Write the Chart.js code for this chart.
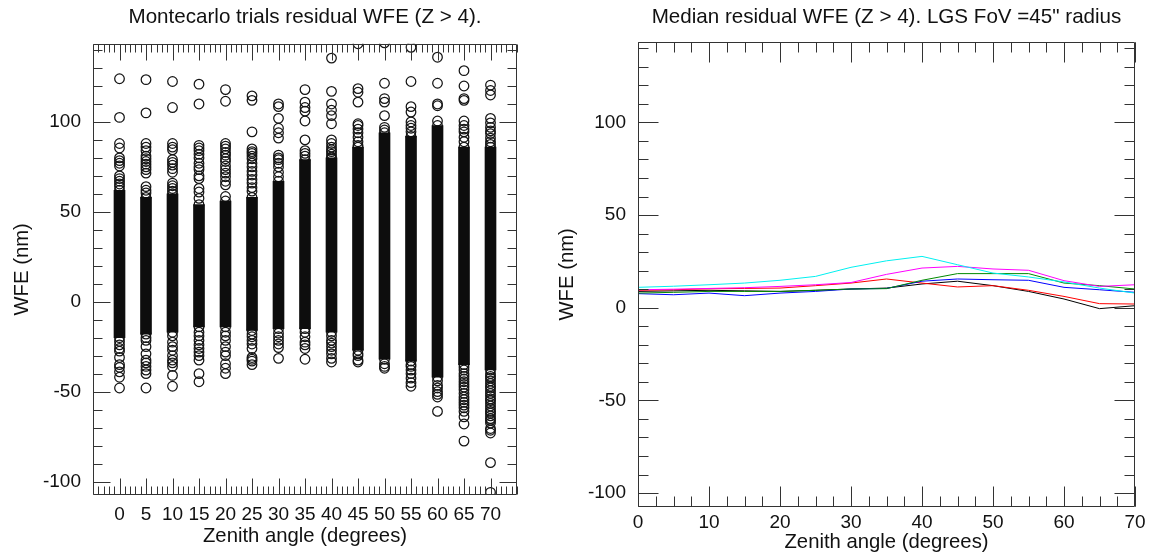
<!DOCTYPE html>
<html>
<head>
<meta charset="utf-8">
<script src="https://cdn.jsdelivr.net/npm/chart.js@4.4.1/dist/chart.umd.min.js"></script>
<style>
  html, body { margin: 0; padding: 0; background: #fff; }
  #wrap { position: relative; width: 1154px; height: 558px; overflow: hidden; }
  .panel { position: absolute; top: 0; height: 558px; }
  #left { left: 0; width: 577px; }
  #right { left: 550px; width: 604px; }
</style>
</head>
<body>
<div id="wrap">
  <div class="panel" id="left"><canvas id="trialsChart"></canvas></div>
  <div class="panel" id="right"><canvas id="medianChart"></canvas></div>
</div>
<script>
// zenith angles of the trials (degrees)
const angles = [0, 5, 10, 15, 20, 25, 30, 35, 40, 45, 50, 55, 60, 65, 70];
const medianTicksX = [0, 10, 20, 30, 40, 50, 60, 70];
const wfeTicks = [-100, -50, 0, 50, 100];

// dense part of each trial column (nm), where the circles merge into black
const coreLow = [-20, -18, -17, -14, -14, -16, -15, -15, -17, -27, -32, -33, -42, -35, -38];
const coreHigh = [62, 58, 60, 54, 56, 58, 67, 79, 80, 86, 94, 92, 98, 86, 86];

// single trials still visible as circles, per zenith angle (nm)
const trialOutliers = [
  [124, 102.5, 88, 85.5, 80, 78.5, 77, 75.5, 70, 68.5, 67, 65.5, 64, 62, -20, -22, -24, -26, -27.5, -31, -35, -36.5, -39, -42, -48],
  [123.5, 105, 88, 86, 84, 81, 79.5, 78, 76.5, 75, 73.5, 71.5, 64, 62, 60.5, 58, -18, -20, -21.5, -25, -29, -32.5, -34, -36, -38, -40, -48],
  [122.5, 108, 88, 86, 84.5, 79, 77.5, 76, 74, 72, 66, 64.5, 63, 61.5, 60, -17, -19, -22.5, -25, -27, -30, -32.5, -34, -36, -41, -47],
  [121, 110, 87, 85.5, 84, 82, 80, 77, 75, 73.5, 70, 68.5, 63, 61, 57.5, 54, -14, -17, -19, -21.5, -24, -26, -28, -30, -32.5, -40, -44.5],
  [118, 111.5, 88, 86.5, 85, 83, 81.5, 79.5, 78, 75.5, 73.5, 71.5, 69.5, 67, 65, 58.5, 56, -14, -17, -19, -21.5, -25, -28, -30, -34.5, -37, -40],
  [114.5, 112, 94.5, 85, 83.5, 82.5, 81, 79.5, 77, 75, 72.5, 70.5, 68, 66, 63.5, 61.5, 58, -16, -18, -19.5, -21.5, -23.5, -26, -31, -32, -33, -35],
  [110, 108.5, 102, 96.5, 94, 91, 81.5, 80, 79, 77, 75, 72, 69.5, 67, -15, -17.5, -19.5, -21.5, -23.5, -25.5, -31.5],
  [118, 111, 108, 106, 100.5, 90, 84, 82.5, 81, 79, -15, -17, -19.5, -22.5, -24, -26, -32],
  [135.5, 117, 110, 106.5, 103.5, 99, 90, 88, 86, 84.5, 83.5, 82, 80.5, 80, -17, -19, -21.5, -23, -25, -27, -29, -31.5, -33.5],
  [143.5, 118.5, 116.5, 111, 99, 98, 96, 94, 91.5, 89, 87, 86, -27, -29, -30, -32.5, -33.5],
  [144, 121.5, 113, 111, 103.5, 97, 95.5, 94, -32, -34.5, -36, -37],
  [141.5, 122.5, 108.5, 105.5, 100, 98, 96.5, 94.5, 92, -33, -35, -36, -38, -40, -42.5, -45, -47],
  [136, 121.5, 110, 109, 100.5, 98, -42, -44, -46.5, -48, -50, -51.5, -53, -61],
  [128.5, 120, 113, 112, 100.5, 98, 96, 94.5, 91.5, 89, 86, -35, -36.5, -38, -40, -41.5, -43, -44.5, -46, -47.5, -49, -51, -53, -54.5, -56, -57.5, -59, -61, -64, -68, -77.5],
  [120.5, 117.5, 115, 102, 99.5, 97, 95, 93.5, 91, 89, 87.5, 86, -38, -40, -41.5, -42.5, -44, -45.5, -47, -48, -49.5, -51, -52.5, -54, -55, -56.5, -58, -59.5, -61, -62, -63.5, -65, -66, -67.5, -70.5, -71.5, -73, -89.5, -106]
];

// median residual WFE (nm) per zenith angle, one line per case
const medianCyan = [11.0, 11.6, 12.4, 13.3, 14.8, 16.9, 21.8, 25.3, 27.7, 23.2, 18.7, 16.6, 13.9, 10.6, 7.9];
const medianMagenta = [9.7, 10.0, 10.4, 10.8, 11.5, 12.4, 13.6, 18.0, 21.4, 22.3, 20.9, 20.2, 14.6, 11.5, 12.4];
const medianRed = [9.4, 9.7, 10.2, 10.4, 10.6, 11.9, 13.3, 15.5, 13.3, 11.2, 11.9, 9.4, 6.1, 2.2, 2.0];
const medianGreen = [7.9, 8.3, 8.8, 8.8, 8.8, 9.4, 10.1, 10.3, 14.8, 18.4, 18.4, 18.4, 13.3, 11.9, 10.1];
const medianBlue = [7.6, 7.0, 7.9, 6.5, 7.9, 8.8, 10.1, 10.4, 14.3, 15.5, 15.1, 14.8, 11.0, 9.7, 8.3];
const medianBlack = [8.8, 9.1, 9.4, 9.1, 8.8, 9.4, 10.1, 10.6, 12.8, 14.3, 11.9, 8.8, 4.7, -0.5, 1.1];

const fontFamily = "'Liberation Sans', Arial, Helvetica, sans-serif";
const textColor = "#111";
const tickFont = { family: fontFamily, size: 19 };
const axisTitleFont = { family: fontFamily, size: 20.3 };
const chartTitleFont = { family: fontFamily, size: 20.6, weight: "normal" };

function steps(from, to, step) {
  let out = [];
  for (let v = from; v <= to + 1e-9; v += step) out.push(Math.round(v * 100) / 100);
  return out;
}

/* IDL style box: frame on all four sides with inward ticks */
function boxTicks(cfg) {
  return {
    id: "boxTicks",
    afterDatasetsDraw(chart) {
      const { ctx, chartArea: a, scales } = chart;
      const x = scales.x, y = scales.y;
      const L = Math.round(a.left) + 0.5, R = Math.round(a.right) - 0.5;
      const T = Math.round(a.top) + 0.5, B = Math.round(a.bottom) - 0.5;
      ctx.save();
      ctx.strokeStyle = "#333";
      ctx.lineWidth = 1;
      ctx.beginPath();
      ctx.rect(L, T, R - L, B - T);
      function xTick(v, len) {
        const p = Math.round(x.getPixelForValue(v)) + 0.5;
        ctx.moveTo(p, B); ctx.lineTo(p, B - len);
        ctx.moveTo(p, T); ctx.lineTo(p, T + len);
      }
      function yTick(v, len) {
        const p = Math.round(y.getPixelForValue(v)) + 0.5;
        ctx.moveTo(L, p); ctx.lineTo(L + len, p);
        ctx.moveTo(R, p); ctx.lineTo(R - len, p);
      }
      cfg.xMinor.forEach(v => xTick(v, cfg.xMinorLen));
      cfg.xMajor.forEach(v => xTick(v, cfg.xMajorLen));
      cfg.yMinor.forEach(v => yTick(v, cfg.yMinorLen));
      cfg.yMajor.forEach(v => yTick(v, cfg.yMajorLen));
      ctx.stroke();
      ctx.restore();
    }
  };
}

function wfeAxis(width, titlePad) {
  return {
    type: "linear",
    min: -107.5,
    max: 143.5,
    afterBuildTicks: s => { s.ticks = wfeTicks.map(v => ({ value: v })); },
    afterFit: s => { s.width = width; },
    grid: { display: false, drawTicks: false },
    border: { display: false },
    ticks: { font: tickFont, color: textColor, padding: 12 },
    title: { display: true, text: "WFE (nm)", font: axisTitleFont, color: textColor, padding: { top: titlePad, bottom: 0 } }
  };
}

// Left: Montecarlo trials
new Chart(document.getElementById("trialsChart"), {
  type: "scatter",
  data: {
    datasets: [
      {
        type: "bar",
        data: angles.map((a, i) => ({ x: a, y: [coreLow[i], coreHigh[i]] })),
        backgroundColor: "#0d0d0d",
        borderWidth: 0,
        barThickness: 11
      },
      {
        type: "scatter",
        data: trialOutliers.flatMap((vals, i) => vals.map(v => ({ x: angles[i], y: v }))),
        pointStyle: "circle",
        pointRadius: 4.8,
        borderWidth: 1.25,
        borderColor: "#151515",
        backgroundColor: "rgba(0,0,0,0)"
      }
    ]
  },
  options: {
    responsive: true,
    maintainAspectRatio: false,
    animation: false,
    events: [],
    layout: { padding: { left: 0, right: 60, top: 0, bottom: 0 } },
    plugins: {
      legend: { display: false },
      tooltip: { enabled: false },
      title: {
        display: true,
        fullSize: false,
        text: "Montecarlo trials residual WFE (Z > 4).",
        font: chartTitleFont,
        color: textColor,
        padding: { top: 5, bottom: 14 }
      }
    },
    scales: {
      x: {
        type: "linear",
        min: -5,
        max: 75,
        offset: false,
        afterBuildTicks: s => { s.ticks = angles.map(v => ({ value: v })); },
        afterFit: s => { s.height = 63; },
        grid: { display: false, drawTicks: false, offset: false },
        border: { display: false },
        ticks: { font: tickFont, color: textColor, padding: 8, maxRotation: 0, autoSkip: false },
        title: { display: true, text: "Zenith angle (degrees)", font: axisTitleFont, color: textColor, padding: { top: 0, bottom: 9 } }
      },
      y: wfeAxis(93, 10)
    }
  },
  plugins: [boxTicks({
    xMajor: angles, xMinor: steps(-5, 75, 1), xMajorLen: 16, xMinorLen: 8,
    yMajor: wfeTicks, yMinor: steps(-100, 140, 10), yMajorLen: 17, yMinorLen: 9
  })]
});

// Right: median residual WFE
function line(values, colour) {
  return {
    data: angles.map((a, i) => ({ x: a, y: values[i] })),
    borderColor: colour,
    borderWidth: 1,
    pointRadius: 0,
    showLine: true,
    tension: 0,
    fill: false
  };
}

new Chart(document.getElementById("medianChart"), {
  type: "scatter",
  data: {
    datasets: [
      line(medianCyan, "#00f0f0"),
      line(medianMagenta, "#ff00ff"),
      line(medianGreen, "#008a00"),
      line(medianBlue, "#0000ff"),
      line(medianRed, "#ff0000"),
      line(medianBlack, "#000000")
    ]
  },
  options: {
    responsive: true,
    maintainAspectRatio: false,
    animation: false,
    events: [],
    layout: { padding: { left: 0, right: 19, top: 0, bottom: 0 } },
    plugins: {
      legend: { display: false },
      tooltip: { enabled: false },
      title: {
        display: true,
        fullSize: false,
        text: "Median residual WFE (Z > 4). LGS FoV =45\" radius",
        font: chartTitleFont,
        color: textColor,
        padding: { top: 5, bottom: 12 }
      }
    },
    scales: {
      x: {
        type: "linear",
        min: 0,
        max: 70,
        afterBuildTicks: s => { s.ticks = medianTicksX.map(v => ({ value: v })); },
        afterFit: s => { s.height = 51; },
        grid: { display: false, drawTicks: false },
        border: { display: false },
        ticks: { font: tickFont, color: textColor, padding: 4, maxRotation: 0, autoSkip: false },
        title: { display: true, text: "Zenith angle (degrees)", font: axisTitleFont, color: textColor, padding: { top: 0, bottom: 3 } }
      },
      y: wfeAxis(88, 5)
    }
  },
  plugins: [boxTicks({
    xMajor: medianTicksX, xMinor: steps(0, 70, 2.5), xMajorLen: 20, xMinorLen: 10,
    yMajor: wfeTicks, yMinor: steps(-100, 140, 10), yMajorLen: 20, yMinorLen: 10
  })]
});
</script>
</body>
</html>
